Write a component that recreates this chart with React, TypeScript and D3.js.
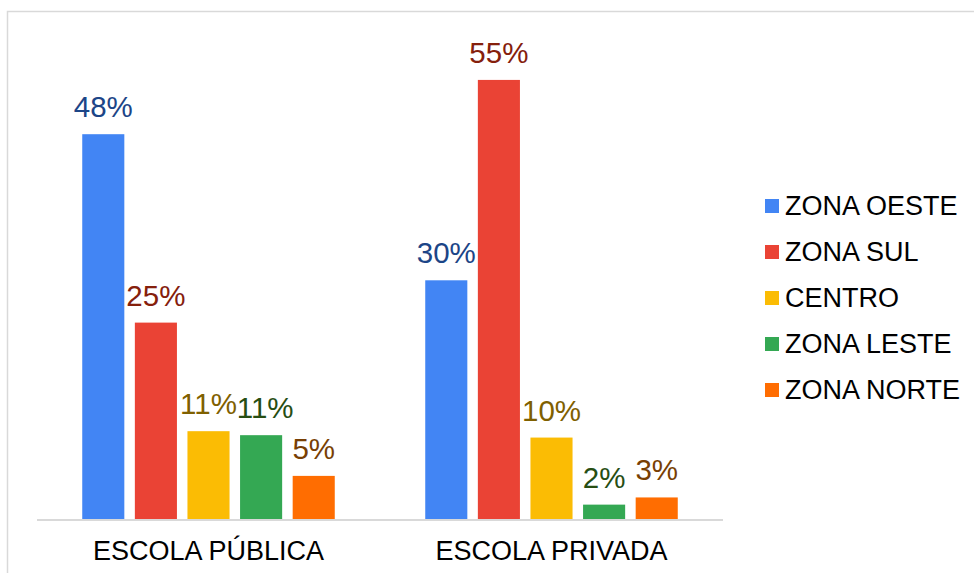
import React, { useEffect, useRef } from 'react';
import * as d3 from 'd3';

const groups = ['ESCOLA PÚBLICA', 'ESCOLA PRIVADA'];
const zones = ['ZONA OESTE', 'ZONA SUL', 'CENTRO', 'ZONA LESTE', 'ZONA NORTE'];
const publica = [48.2, 24.6, 11.0, 10.5, 5.4];
const privada = [29.9, 55.0, 10.2, 1.8, 2.7];
const barColors = ['#4285F4', '#EA4335', '#FBBC04', '#34A853', '#FF6D01'];
const labelColors = ['#1c4587', '#85200c', '#7f6000', '#274e13', '#783f04'];

const W = 974;
const H = 573;
const FONT = '"Liberation Sans", Arial, sans-serif';

export default function App() {
    const ref = useRef<SVGSVGElement>(null);

    useEffect(() => {
        if (!ref.current) return;
        const svg = d3.select(ref.current);
        svg.selectAll('*').remove();

        const plot = { left: 37, right: 723, top: 40, bottom: 519 };
        const rows = [publica, privada];

        // chart frame (runs off the right and bottom of the picture)
        svg.append('rect')
            .attr('x', 7.5).attr('y', 11.5)
            .attr('width', W).attr('height', H)
            .attr('fill', 'white')
            .attr('stroke', '#d9d9d9')
            .attr('stroke-width', 1.5);

        const x0 = d3.scaleBand<string>().domain(groups).range([plot.left, plot.right]);
        const x1 = d3.scaleBand<string>().domain(zones)
            .range([0, x0.bandwidth()])
            .paddingInner(0.2)
            .paddingOuter(0.86);
        const y = d3.scaleLinear().domain([0, 60]).range([plot.bottom, plot.top]);

        const g = svg.selectAll('.grp')
            .data(groups)
            .enter()
            .append('g')
            .attr('transform', d => `translate(${x0(d)},0)`);

        g.selectAll('rect')
            .data((_, i) => rows[i].map((v, j) => ({ v, j })))
            .enter()
            .append('rect')
            .attr('x', d => x1(zones[d.j])!)
            .attr('y', d => y(d.v))
            .attr('width', x1.bandwidth())
            .attr('height', d => y(0) - y(d.v))
            .attr('fill', d => barColors[d.j]);

        g.selectAll('text.lbl')
            .data((_, i) => rows[i].map((v, j) => ({ v, j })))
            .enter()
            .append('text')
            .attr('class', 'lbl')
            .attr('x', d => x1(zones[d.j])! + x1.bandwidth() / 2 + (d.j === 3 && d.v > 8 ? 4 : 0))
            .attr('y', d => y(d.v) - 17)
            .attr('text-anchor', 'middle')
            .attr('font-family', FONT)
            .attr('font-size', 29.5)
            .attr('fill', d => labelColors[d.j])
            .text(d => `${Math.round(d.v)}%`);

        // baseline
        svg.append('line')
            .attr('x1', plot.left).attr('x2', plot.right)
            .attr('y1', 520).attr('y2', 520)
            .attr('stroke', '#d9d9d9')
            .attr('stroke-width', 2);

        // category labels
        svg.selectAll('.cat')
            .data(groups)
            .enter()
            .append('text')
            .attr('x', d => x0(d)! + x0.bandwidth() / 2)
            .attr('y', 560)
            .attr('text-anchor', 'middle')
            .attr('font-family', FONT)
            .attr('font-size', 27)
            .attr('fill', '#000')
            .text(d => d);

        // legend
        const leg = svg.selectAll('.leg')
            .data(zones)
            .enter()
            .append('g')
            .attr('transform', (_, i) => `translate(765,${199 + i * 46})`);
        leg.append('rect')
            .attr('width', 14).attr('height', 14)
            .attr('fill', (_, i) => barColors[i]);
        leg.append('text')
            .attr('x', 20).attr('y', 16)
            .attr('font-family', FONT)
            .attr('font-size', 27)
            .attr('fill', '#000')
            .text(d => d);
    }, []);

    return (
        <svg ref={ref} width={W} height={H}
            style={{ position: 'absolute', left: 0, top: 0, display: 'block' }} />
    );
}
